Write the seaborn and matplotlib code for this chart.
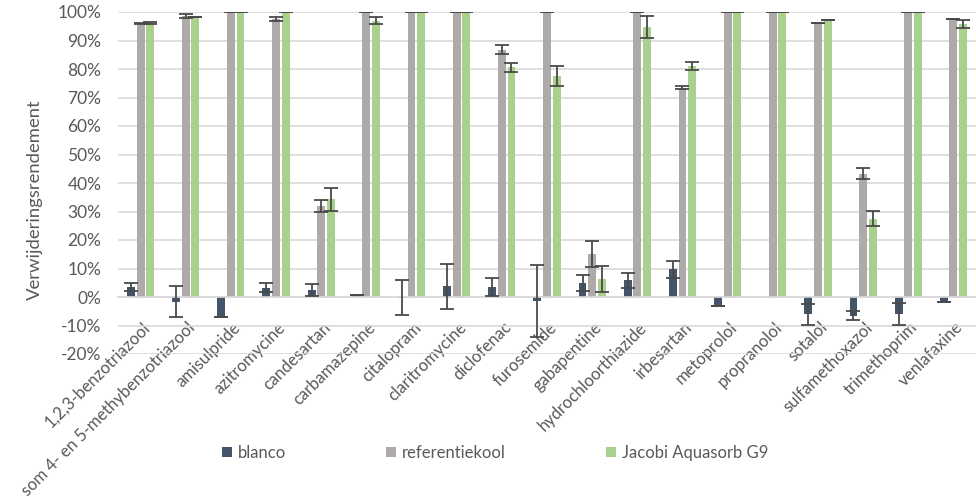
import matplotlib
matplotlib.use("Agg")
import matplotlib.pyplot as plt
import matplotlib.transforms as mtransforms
import numpy as np
import pandas as pd
import seaborn as sns

# Compounds on the category axis
categories = [
    "1,2,3-benzotriazool", "som 4- en 5-methybenzotriazool", "amisulpride",
    "azitromycine", "candesartan", "carbamazepine", "citalopram",
    "claritromycine", "diclofenac", "furosemide", "gabapentine",
    "hydrochloorthiazide", "irbesartan", "metoprolol", "propranolol",
    "sotalol", "sulfamethoxazol", "trimethoprim", "venlafaxine",
]

series_names = ["blanco", "referentiekool", "Jacobi Aquasorb G9"]

# Removal efficiency (%) and standard deviation per compound
blanco = [3.5, -1.6, -7.0, 3.3, 2.4, 0.7, -0.2, 3.7, 3.5, -1.5,
          4.9, 5.8, 9.8, -3.3, 0.0, -6.1, -6.6, -5.9, -1.7]
blanco_sd = [1.4, 5.4, 0.0, 1.7, 2.1, 0.0, 6.2, 8.0, 3.0, 12.7,
             2.7, 2.6, 3.0, 0.0, None, 3.8, 1.6, 3.8, 0.0]

referentiekool = [96.0, 98.6, 100, 97.5, 32.0, 100, 100, 100, 86.8, 100,
                  15.2, 100, 73.5, 100, 100, 96.3, 43.3, 100, 97.5]
referentiekool_sd = [0.3, 0.8, 0.0, 0.8, 2.1, 0.0, 0.0, 0.0, 1.5, 0.0,
                     4.6, 0.0, 0.5, 0.0, 0.0, 0.0, 1.8, 0.0, 0.0]

jacobi = [96.2, 98.3, 100, 100, 34.3, 97.0, 100, 100, 80.6, 77.6,
          6.3, 94.8, 81.0, 100, 100, 97.2, 27.5, 100, 95.8]
jacobi_sd = [0.3, 0.0, 0.0, 0.0, 4.0, 1.3, 0.0, 0.0, 1.6, 3.5,
             4.6, 3.8, 1.5, 0.0, 0.0, 0.0, 2.7, 0.0, 1.3]

y_ticks = list(range(-20, 101, 10))

colors = ["#44546A", "#AEAAAA", "#A9D18E"]
text_color = "#595959"
grid_color = "#D9D9D9"
err_color = "#4A4A4A"

sns.set_style("white")
plt.rcParams["font.family"] = ["Lato", "DejaVu Sans"]

values = [blanco, referentiekool, jacobi]
sds = [blanco_sd, referentiekool_sd, jacobi_sd]

df = pd.DataFrame({
    "stof": np.tile(categories, len(series_names)),
    "serie": np.repeat(series_names, len(categories)),
    "rendement": np.concatenate(values),
})

fig = plt.figure(figsize=(9.76, 4.97), dpi=100)
ax = fig.add_axes([118 / 976, 1 - 354 / 497, 858 / 976, 342 / 497])

sns.barplot(
    data=df, x="stof", y="rendement", hue="serie",
    order=categories, hue_order=series_names, palette=colors,
    width=0.64, gap=0.18, errorbar=None, saturation=1, linewidth=0,
    ax=ax, zorder=2,
)

# Standard deviation whiskers on top of every bar
for container, vals, errs in zip(ax.containers, values, sds):
    xs, ys, es = [], [], []
    for patch, v, e in zip(container.patches, vals, errs):
        if e is None:
            continue
        xs.append(patch.get_x() + patch.get_width() / 2)
        ys.append(v)
        es.append(e)
    ax.errorbar(xs, ys, yerr=es, fmt="none", ecolor=err_color,
                elinewidth=1.3, capsize=5, capthick=1.3, zorder=3)

ax.set_xlim(-0.5, len(categories) - 0.5)
ax.set_ylim(-20, 100)
ax.set_yticks(y_ticks)
ax.set_yticklabels([f"{t}%" for t in y_ticks])
ax.yaxis.grid(True, color=grid_color, linewidth=1.2, zorder=0)
ax.set_axisbelow(True)

for side in ["top", "right", "left"]:
    ax.spines[side].set_visible(False)
ax.spines["bottom"].set_position(("data", 0))
ax.spines["bottom"].set_color(grid_color)
ax.spines["bottom"].set_linewidth(1.2)

ax.tick_params(axis="both", length=0, colors=text_color)
ax.tick_params(axis="y", pad=12, labelsize=12.5)
ax.tick_params(axis="x", pad=20, labelsize=12)

ax.set_xlabel("")
ax.set_ylabel("Verwijderingsrendement", color=text_color, fontsize=13.3)
ax.yaxis.set_label_coords(-0.088, 0.45)

offset = mtransforms.ScaledTranslation(7 / 100, 0, fig.dpi_scale_trans)
for lbl in ax.get_xticklabels():
    lbl.set_rotation(45)
    lbl.set_ha("right")
    lbl.set_va("center")
    lbl.set_rotation_mode("anchor")
    lbl.set_transform(lbl.get_transform() + offset)

handles, labels = ax.get_legend_handles_labels()
ax.get_legend().remove()
fig.legend(
    handles, labels, loc="center", bbox_to_anchor=(495 / 976, 1 - 453 / 497),
    ncol=3, frameon=False, handlelength=0.6, handleheight=0.6,
    handletextpad=0.35, columnspacing=6.0, fontsize=12,
    labelcolor=text_color,
)

fig.savefig("out.png", dpi=100)
